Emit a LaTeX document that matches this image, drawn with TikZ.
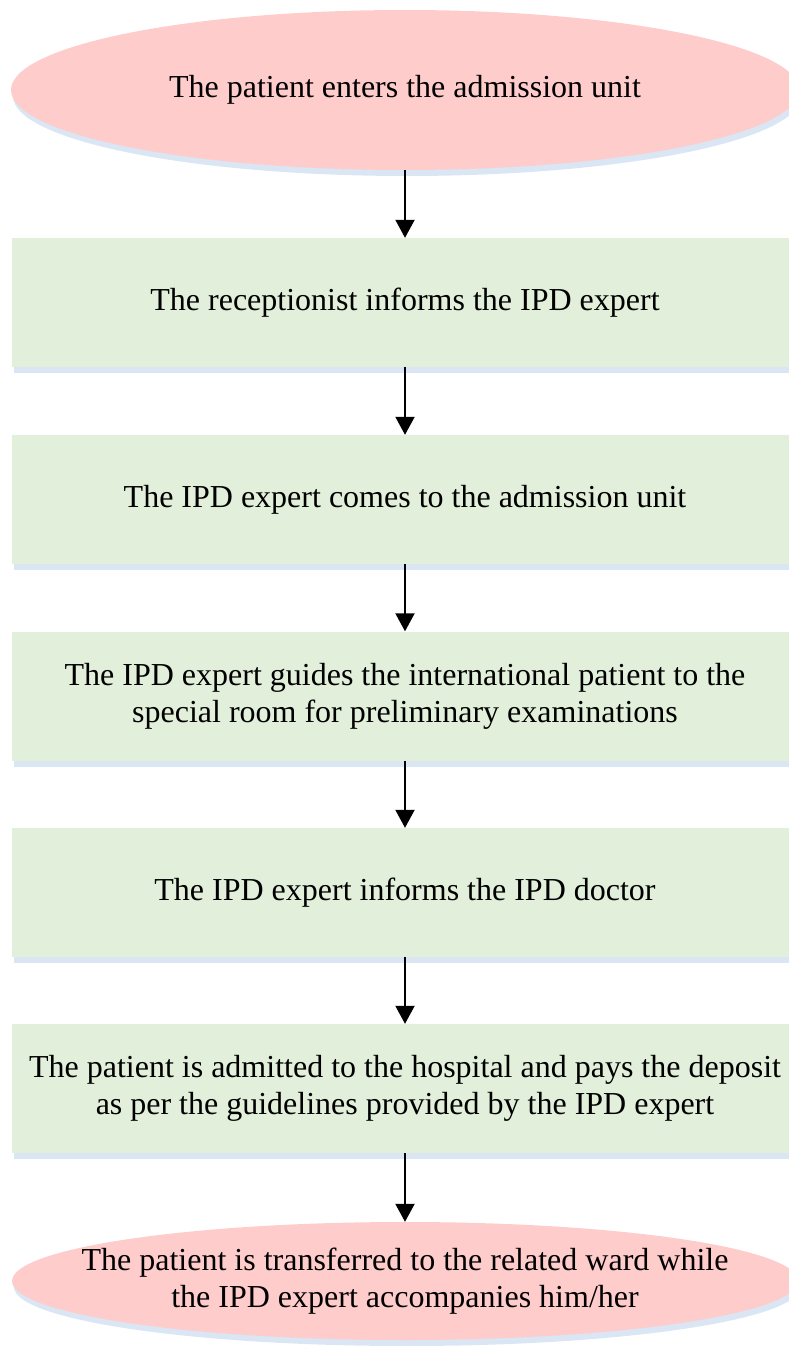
\documentclass[tikz,border=0pt]{standalone}
\usepackage{fontspec}
\setmainfont{Liberation Serif}
\usetikzlibrary{shapes.geometric,arrows.meta,shadows}
\definecolor{pinkfill}{RGB}{255,204,204}
\definecolor{greenfill}{RGB}{226,239,218}
\definecolor{shadowblue}{RGB}{218,230,243}
\begin{document}
\begin{tikzpicture}[x=1pt,y=-1pt,
    every node/.style={font=\fontsize{32}{37}\selectfont, align=center, inner sep=0pt},
    softshadow/.style={drop shadow={shadow xshift=2pt, shadow yshift=-6pt, fill=shadowblue, opacity=1}},
    terminal/.style={ellipse, fill=pinkfill, softshadow},
    stepbox/.style={rectangle, fill=greenfill, minimum width=786pt, minimum height=129pt, softshadow},
    flow/.style={line width=2pt, -{Triangle[width=19pt,length=18pt]}}]
  \useasboundingbox (0,0) rectangle (788,1346);

  \node[terminal, minimum width=788pt, minimum height=160pt] (enter) at (405,90) {};
  \node at (enter) {The patient enters the admission unit};

  \node[stepbox] (inform) at (405,302.5) {The receptionist informs the IPD expert};
  \node[stepbox] (comes) at (405,499.5) {The IPD expert comes to the admission unit};
  \node[stepbox] (guide) at (405,696) {The IPD expert guides the international patient to the\\special room for preliminary examinations};
  \node[stepbox] (doctor) at (405,892.5) {The IPD expert informs the IPD doctor};
  \node[stepbox] (admit) at (405,1088.5) {The patient is admitted to the hospital and pays the deposit\\as per the guidelines provided by the IPD expert};

  \node[terminal, minimum width=786pt, minimum height=118pt] (ward) at (405,1281) {};
  \node at (ward) {The patient is transferred to the related ward while\\the IPD expert accompanies him/her};

  \draw[flow] (enter) -- (inform);
  \draw[flow] (inform) -- (comes);
  \draw[flow] (comes) -- (guide);
  \draw[flow] (guide) -- (doctor);
  \draw[flow] (doctor) -- (admit);
  \draw[flow] (admit) -- (ward);
\end{tikzpicture}
\end{document}
